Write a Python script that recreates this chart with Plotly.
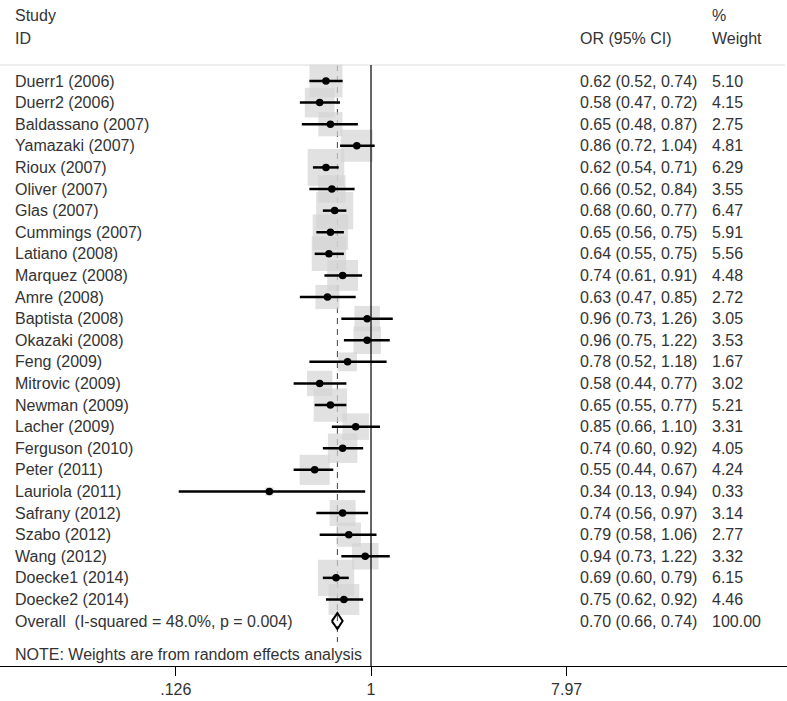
import plotly.graph_objects as go
import math

studies = ["Duerr1 (2006)", "Duerr2 (2006)", "Baldassano (2007)", "Yamazaki (2007)", "Rioux (2007)",
           "Oliver (2007)", "Glas (2007)", "Cummings (2007)", "Latiano (2008)", "Marquez (2008)",
           "Amre (2008)", "Baptista (2008)", "Okazaki (2008)", "Feng (2009)", "Mitrovic (2009)",
           "Newman (2009)", "Lacher (2009)", "Ferguson (2010)", "Peter (2011)", "Lauriola (2011)",
           "Safrany (2012)", "Szabo (2012)", "Wang (2012)", "Doecke1 (2014)", "Doecke2 (2014)"]
or_vals = [0.62, 0.58, 0.65, 0.86, 0.62, 0.66, 0.68, 0.65, 0.64, 0.74, 0.63, 0.96, 0.96, 0.78, 0.58,
           0.65, 0.85, 0.74, 0.55, 0.34, 0.74, 0.79, 0.94, 0.69, 0.75]
ci_low = [0.52, 0.47, 0.48, 0.72, 0.54, 0.52, 0.60, 0.56, 0.55, 0.61, 0.47, 0.73, 0.75, 0.52, 0.44,
          0.55, 0.66, 0.60, 0.44, 0.13, 0.56, 0.58, 0.73, 0.60, 0.62]
ci_high = [0.74, 0.72, 0.87, 1.04, 0.71, 0.84, 0.77, 0.75, 0.75, 0.91, 0.85, 1.26, 1.22, 1.18, 0.77,
           0.77, 1.10, 0.92, 0.67, 0.94, 0.97, 1.06, 1.22, 0.79, 0.92]
weights = [5.10, 4.15, 2.75, 4.81, 6.29, 3.55, 6.47, 5.91, 5.56, 4.48, 2.72, 3.05, 3.53, 1.67, 3.02,
           5.21, 3.31, 4.05, 4.24, 0.33, 3.14, 2.77, 3.32, 6.15, 4.46]
overall_label = "Overall  (I-squared = 48.0%, p = 0.004)"
overall_or, overall_low, overall_high, overall_weight = 0.70, 0.66, 0.74, 100.00
note_text = "NOTE: Weights are from random effects analysis"
tick_vals = [0.126, 1, 7.97]
tick_text = [".126", "1", "7.97"]

W, H = 787, 701
n = len(studies)
rows = list(range(n))
overall_row = n
TXT = "#333333"
FONT = "Liberation Sans, Arial, sans-serif"
FS = 16

fig = go.Figure()

# weight boxes
box_sizes = [14.6 * math.sqrt(w) for w in weights]
fig.add_trace(go.Scatter(x=or_vals, y=rows, mode="markers",
                         marker=dict(symbol="square", size=box_sizes, color="#d4d4d4", line=dict(width=0)),
                         hoverinfo="skip", showlegend=False))
# CI lines
cx, cy = [], []
for r, lo, hi in zip(rows, ci_low, ci_high):
    cx += [lo, hi, None]
    cy += [r, r, None]
fig.add_trace(go.Scatter(x=cx, y=cy, mode="lines", line=dict(color="black", width=2.5),
                         hoverinfo="skip", showlegend=False))
# point estimates
fig.add_trace(go.Scatter(x=or_vals, y=rows, mode="markers",
                         marker=dict(symbol="circle", size=7.5, color="black"),
                         hoverinfo="skip", showlegend=False))
# overall diamond
dh = 0.37
fig.add_trace(go.Scatter(x=[overall_low, overall_or, overall_high, overall_or, overall_low],
                         y=[overall_row, overall_row - dh, overall_row, overall_row + dh, overall_row],
                         mode="lines", line=dict(color="black", width=2),
                         hoverinfo="skip", showlegend=False))

top_r = -0.74
# separator line at top
fig.add_shape(type="line", xref="paper", yref="y", x0=0, x1=785 / W, y0=top_r, y1=top_r,
              line=dict(color="#dddddd", width=1))
# dashed overall line
fig.add_shape(type="line", xref="x", yref="y", x0=overall_or, x1=overall_or, y0=top_r, y1=25.97,
              line=dict(color="#444444", width=1, dash="6px,5px"), layer="below")
# null line
fig.add_shape(type="line", xref="x", yref="y", x0=1, x1=1, y0=top_r, y1=27.08,
              line=dict(color="black", width=1.2))

ann = []
def txt(xpx, y, s):
    ann.append(dict(x=xpx / W, xref="paper", y=y, yref="y", text=s, showarrow=False,
                    xanchor="left", yanchor="middle", font=dict(family=FONT, size=FS, color=TXT)))

OR_X, WT_X = 578, 710
# headers
txt(13, -3.01, "Study")
txt(13, -1.99, "ID")
txt(OR_X, -1.99, "OR (95% CI)")
txt(WT_X, -3.01, "%")
txt(WT_X, -1.99, "Weight")

for r, s, o, lo, hi, w in zip(rows, studies, or_vals, ci_low, ci_high, weights):
    txt(13, r, s)
    txt(OR_X, r, f"{o:.2f} ({lo:.2f}, {hi:.2f})")
    txt(WT_X, r, f"{w:.2f}")
txt(13, overall_row, overall_label)
txt(OR_X, overall_row, f"{overall_or:.2f} ({overall_low:.2f}, {overall_high:.2f})")
txt(WT_X, overall_row, f"{overall_weight:.2f}")
txt(13, 26.53, note_text)

fig.update_layout(
    width=W, height=H,
    margin=dict(l=0, r=0, t=0, b=35),
    paper_bgcolor="white", plot_bgcolor="white",
    annotations=ann,
    xaxis=dict(type="log", range=[-1.7097, 1.917], tickvals=tick_vals, ticktext=tick_text,
               showgrid=False, zeroline=False, showline=True, linecolor="black", linewidth=1,
               ticks="outside", ticklen=9, tickcolor="black", tickwidth=1,
               tickfont=dict(family=FONT, size=FS, color=TXT), fixedrange=True),
    yaxis=dict(range=[27.08, -3.75], visible=False, fixedrange=True),
    showlegend=False,
)

fig.write_html("out.html", config={"displayModeBar": False},
               post_script="document.body.style.margin='0px';document.body.style.overflow='hidden';")
